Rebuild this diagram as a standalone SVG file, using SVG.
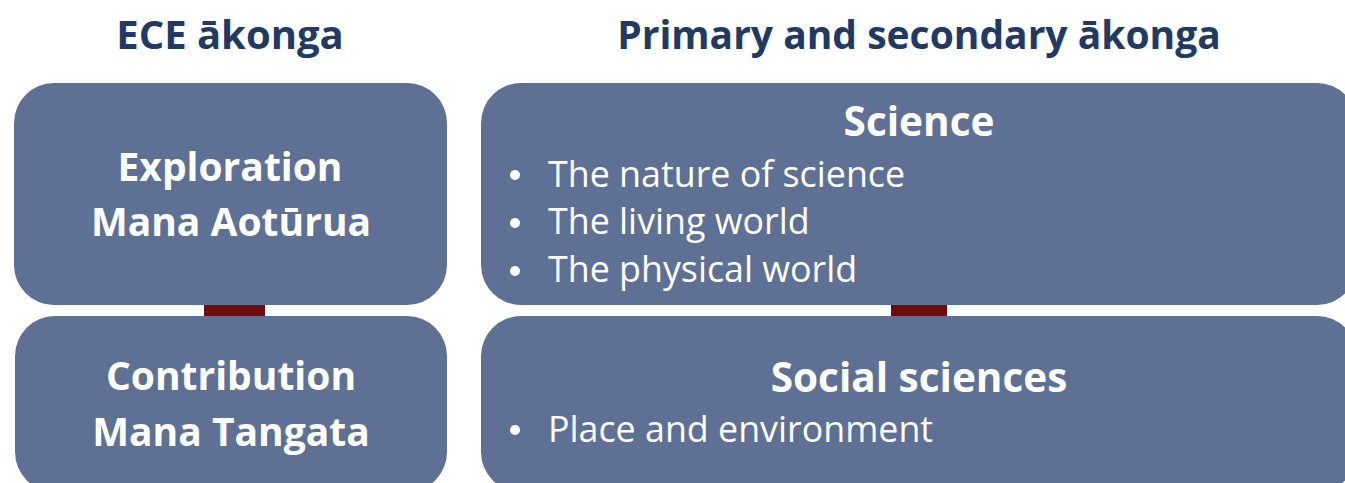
<svg xmlns="http://www.w3.org/2000/svg" width="1345" height="483" viewBox="0 0 1345 483">
<style>
.box{fill:#5e7093}
.link{fill:#6b0d0f}
.hd{font-family:"Open Sans",sans-serif;font-weight:700;font-size:39px;fill:#223a63;text-anchor:middle}
.t{font-family:"Open Sans",sans-serif;font-weight:700;font-size:39px;fill:#ffffff;text-anchor:middle}
.tr{font-size:40.5px}
.b{font-family:"Open Sans",sans-serif;font-size:35.8px;fill:#ffffff}
</style>
<rect width="1345" height="483" fill="#ffffff"/>
<text class="hd" x="230" y="49" style="font-size:40px">ECE ākonga</text>
<text class="hd" x="919" y="49">Primary and secondary ākonga</text>
<g id="connectors">
<rect class="link" x="204" y="302" width="61" height="16"/>
<rect class="link" x="891" y="302" width="56" height="16"/>
</g>
<g id="exploration">
<rect class="box" x="14" y="83" width="433" height="222" rx="40"/>
<text class="t" x="230" y="181">Exploration</text>
<text class="t" x="231" y="236">Mana Aotūrua</text>
</g>
<g id="contribution">
<rect class="box" x="15" y="316" width="432" height="176" rx="40"/>
<text class="t" x="231" y="390">Contribution</text>
<text class="t" x="231" y="446">Mana Tangata</text>
</g>
<g id="science">
<rect class="box" x="481" y="83" width="876" height="222" rx="40"/>
<text class="t tr" x="919" y="136">Science</text>
<circle cx="515" cy="175" r="5" fill="#ffffff"/>
<text class="b" x="548" y="187">The nature of science</text>
<circle cx="515" cy="223" r="5" fill="#ffffff"/>
<text class="b" x="548" y="234">The living world</text>
<circle cx="515" cy="271" r="5" fill="#ffffff"/>
<text class="b" x="548" y="282">The physical world</text>
</g>
<g id="social-sciences">
<rect class="box" x="481" y="316" width="876" height="176" rx="40"/>
<text class="t tr" x="919" y="392">Social sciences</text>
<circle cx="515" cy="430" r="5" fill="#ffffff"/>
<text class="b" x="548" y="442">Place and environment</text>
</g>
</svg>
